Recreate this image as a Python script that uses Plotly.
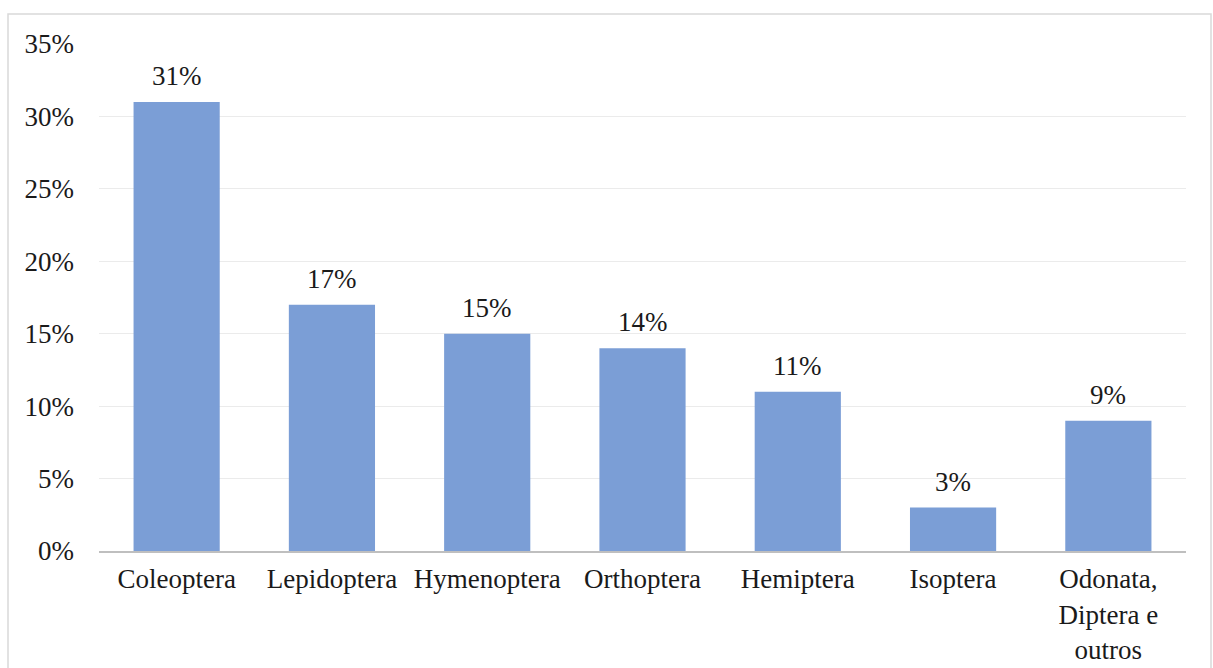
import plotly.graph_objects as go

# Insect orders and their share of records (%)
orders = ["Coleoptera", "Lepidoptera", "Hymenoptera", "Orthoptera",
          "Hemiptera", "Isoptera", "Odonata,<br>Diptera e<br>outros"]
shares = [31, 17, 15, 14, 11, 3, 9]
y_ticks = [0, 5, 10, 15, 20, 25, 30, 35]

FONT = "Liberation Serif, Times New Roman, serif"
INK = "#1a1a1a"

fig = go.Figure(
    go.Bar(
        x=orders,
        y=shares,
        marker=dict(color="#7b9ed6", line=dict(width=0)),
        hoverinfo="x+y",
    )
)

# value labels above each bar
for cat, val in zip(orders, shares):
    fig.add_annotation(
        x=cat, y=val, text=f"{val}%", showarrow=False,
        yanchor="bottom", yshift=9,
        font=dict(family=FONT, size=27, color=INK),
    )

fig.update_layout(
    width=1213,
    height=668,
    margin=dict(l=99, r=27, t=44, b=117),
    paper_bgcolor="white",
    plot_bgcolor="white",
    bargap=0.445,
    showlegend=False,
    font=dict(family=FONT, size=27, color=INK),
    shapes=[
        dict(type="rect", xref="paper", yref="paper",
             x0=(8 - 99) / 1087, x1=(1211 - 99) / 1087,
             y0=(551 - 700) / 507, y1=(551 - 14) / 507,
             line=dict(color="#d9d9d9", width=1.5), layer="below"),
    ],
)

fig.update_xaxes(
    automargin=False,
    showgrid=False,
    showline=True,
    linecolor="#bfbfbf",
    linewidth=2,
    ticks="",
    tickfont=dict(family=FONT, size=27, color=INK),
    ticklabelstandoff=3,
)

fig.update_yaxes(
    automargin=False,
    range=[0, 35],
    tickmode="array",
    tickvals=y_ticks,
    ticktext=[f"{v}%" for v in y_ticks],
    showgrid=True,
    gridcolor="#ebebeb",
    gridwidth=1,
    zeroline=False,
    showline=False,
    ticks="",
    tickfont=dict(family=FONT, size=27, color=INK),
    ticklabelstandoff=24,
)

fig.write_html("out.html")
